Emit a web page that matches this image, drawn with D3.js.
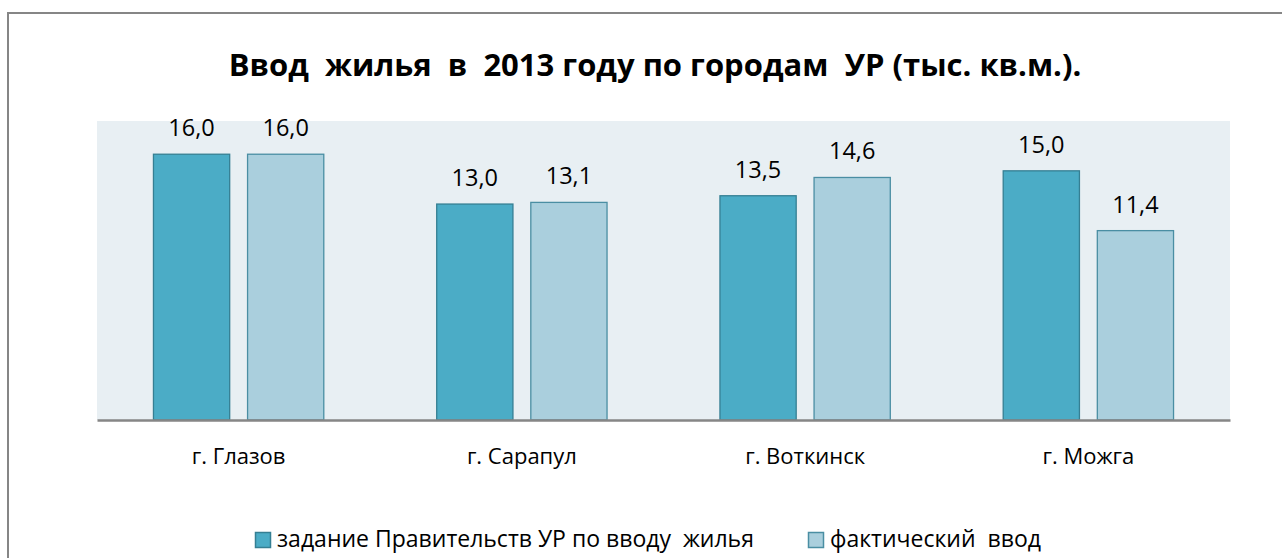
<!DOCTYPE html>
<html>
<head>
<meta charset="utf-8">
<script src="https://cdn.jsdelivr.net/npm/d3@7"></script>
<style>
  body { margin: 0; background: #fff; }
  svg { display: block; font-family: "Open Sans", "Noto Sans", sans-serif; }
  text { white-space: pre; }
</style>
</head>
<body>
<div id="chart"></div>
<script>
const cities = ['г. Глазов', 'г. Сарапул', 'г. Воткинск', 'г. Можга']
const planValues = [16.0, 13.0, 13.5, 15.0]
const factValues = [16.0, 13.1, 14.6, 11.4]
const seriesNames = ['задание Правительств УР по вводу  жилья', 'фактический  ввод']
const chartTitle = 'Ввод  жилья  в  2013 году по городам  УР (тыс. кв.м.).'

const width = 1282
const height = 558

const fills = ['#4bacc6', '#aacfdd']
const strokes = ['#357f93', '#4a8ea3']

let svg = d3.select('#chart').append('svg')
  .attr('width', width)
  .attr('height', height)

// outer chart border (runs off the right and bottom of the picture)
svg.append('rect')
  .attr('x', 8).attr('y', 13)
  .attr('width', 1300).attr('height', 600)
  .attr('fill', '#fff')
  .attr('stroke', '#868686')
  .attr('stroke-width', 2)

let plot = { left: 97, right: 1230, top: 121, bottom: 420 }

svg.append('rect')
  .attr('x', plot.left).attr('y', plot.top)
  .attr('width', plot.right - plot.left)
  .attr('height', plot.bottom - plot.top)
  .attr('fill', '#e8eff3')

let rows = cities.map((c, i) => ({ city: c, values: [planValues[i], factValues[i]] }))

let x = d3.scaleBand().domain(cities).range([plot.left, plot.right])
let xSub = d3.scaleBand().domain([0, 1]).range([0, x.bandwidth()])
  .paddingInner(0.19).paddingOuter(0.6)
let y = d3.scaleLinear().domain([0, 18]).range([plot.bottom, plot.top])

let groups = svg.append('g').selectAll('g')
  .data(rows)
  .enter()
  .append('g')
  .attr('transform', d => 'translate(' + x(d.city) + ',0)')

groups.selectAll('rect')
  .data(d => d.values)
  .enter()
  .append('rect')
  .attr('x', (d, i) => xSub(i))
  .attr('y', d => y(d))
  .attr('width', xSub.bandwidth())
  .attr('height', d => y(0) - y(d))
  .attr('fill', (d, i) => fills[i])
  .attr('stroke', (d, i) => strokes[i])
  .attr('stroke-width', 1.3)

groups.selectAll('text')
  .data(d => d.values)
  .enter()
  .append('text')
  .attr('x', (d, i) => xSub(i) + xSub.bandwidth() / 2)
  .attr('y', d => y(d) - 18)
  .attr('text-anchor', 'middle')
  .attr('font-size', 23.5)
  .attr('fill', '#000')
  .text(d => d3.format('.1f')(d).replace('.', ','))

// category axis
let xAxis = svg.append('g')
  .attr('transform', 'translate(0,' + plot.bottom + ')')
  .call(d3.axisBottom(x).tickSize(0).tickPadding(0))

xAxis.select('.domain').attr('stroke', '#868686').attr('stroke-width', 2.5)
xAxis.selectAll('.tick text')
  .attr('y', 44)
  .attr('dy', null)
  .attr('font-size', 22)
  .attr('font-family', '"Open Sans", sans-serif')
  .attr('fill', '#000')

svg.append('text')
  .attr('x', 655)
  .attr('y', 76)
  .attr('text-anchor', 'middle')
  .attr('font-size', 31)
  .attr('font-weight', 'bold')
  .attr('fill', '#000')
  .text(chartTitle)

// legend
let legendX = [255, 808]
let legend = svg.append('g').selectAll('g')
  .data(seriesNames)
  .enter()
  .append('g')
  .attr('transform', (d, i) => 'translate(' + legendX[i] + ',532)')

legend.append('rect')
  .attr('x', 0.5).attr('y', 0.5)
  .attr('width', 15).attr('height', 15)
  .attr('fill', (d, i) => fills[i])
  .attr('stroke', (d, i) => strokes[i])
  .attr('stroke-width', 1.5)

legend.append('text')
  .attr('x', 22)
  .attr('y', 15)
  .attr('font-size', 23)
  .attr('fill', '#000')
  .text(d => d)
</script>
</body>
</html>
